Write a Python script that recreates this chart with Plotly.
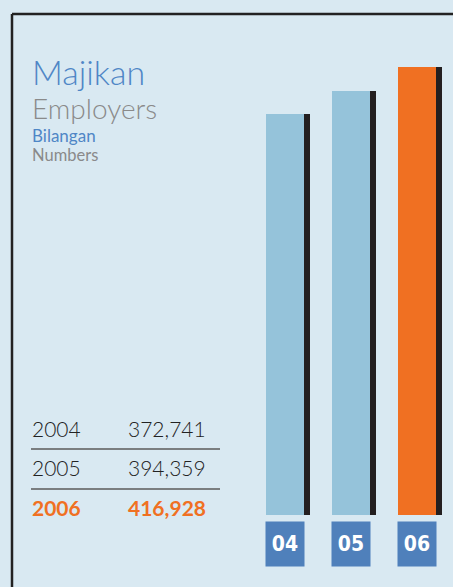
import plotly.graph_objects as go

# ---- data ----
years = ["2004", "2005", "2006"]
year_labels = ["04", "05", "06"]
employers = [372741, 394359, 416928]
value_text = ["372,741", "394,359", "416,928"]

# ---- styles ----
BG = "#d9e9f2"
LIGHT = "#95c3da"
ORANGE = "#f07022"
SHADOW = "#231f20"
BLUE = "#4f86c6"
BOX = "#4f80bb"
GRAY = "#8a8a8a"
FONT = "Lato, 'Open Sans', sans-serif"

W, H = 453, 587
unit_px = 66.0          # pixels between category centres
first_center = 285.0    # pixel x of first category
bar_w = 38 / unit_px
shadow_dx = 6 / unit_px
px_per_val = 0.001075
base_px = 515.0

xr = [-first_center / unit_px, (W - first_center) / unit_px]
yr = [-(H - base_px) / px_per_val, base_px / px_per_val]

bar_colors = [LIGHT, LIGHT, ORANGE]
xs = list(range(len(years)))

fig = go.Figure()
fig.add_trace(go.Bar(x=xs, y=employers, width=[bar_w] * 3,
                     offset=[-bar_w / 2 + shadow_dx] * 3,
                     marker=dict(color=SHADOW, line=dict(width=0)),
                     hoverinfo="skip", showlegend=False))
fig.add_trace(go.Bar(x=xs, y=employers, width=[bar_w] * 3,
                     offset=[-bar_w / 2] * 3,
                     marker=dict(color=bar_colors, line=dict(width=0)),
                     text=value_text, hoverinfo="text", textposition="none",
                     showlegend=False))

def py(p):
    return 1 - p / H

def px(p):
    return p / W

anns = []
# title block
anns += [
    dict(text="Majikan", x=px(30), y=py(72), font=dict(size=34, color=BLUE, family=FONT, weight=300)),
    dict(text="Employers", x=px(30), y=py(108), font=dict(size=28, color=GRAY, family=FONT, weight=300)),
    dict(text="Bilangan", x=px(30), y=py(136), font=dict(size=17, color=BLUE, family=FONT, weight=400)),
    dict(text="Numbers", x=px(30), y=py(155), font=dict(size=16.5, color=GRAY, family=FONT, weight=400)),
]
row_y = [428, 467, 507]
for i, (yv, vt) in enumerate(zip(years, value_text)):
    last = i == len(years) - 1
    col = ORANGE if last else "#222222"
    wt = 700 if last else 300
    anns.append(dict(text=yv, x=px(30), y=py(row_y[i]), font=dict(size=21, color=col, family=FONT, weight=wt)))
    anns.append(dict(text=vt, x=px(126), y=py(row_y[i]), font=dict(size=21, color=col, family=FONT, weight=wt)))
for a in anns:
    a.update(xref="paper", yref="paper", xanchor="left", yanchor="middle", showarrow=False)

# year boxes under bars
for i, lab in enumerate(year_labels):
    anns.append(dict(text=f"<b>{lab}</b>", x=xs[i], xref="x", y=py(544), yref="paper",
                     xanchor="center", yanchor="middle", showarrow=False,
                     bgcolor=BOX, width=34, height=40, borderpad=2,
                     font=dict(size=21, color="white",
                               family="'Liberation Sans Narrow', 'DejaVu Sans Condensed', 'Roboto', sans-serif")))

shapes = [
    # frame
    dict(type="line", xref="paper", yref="paper", x0=px(12), x1=px(12), y0=py(14), y1=0,
         line=dict(color="#222222", width=2.5)),
    dict(type="line", xref="paper", yref="paper", x0=px(12), x1=1, y0=py(14), y1=py(14),
         line=dict(color="#222222", width=2.5)),
    # table separators
    dict(type="line", xref="paper", yref="paper", x0=px(31), x1=px(220), y0=py(449), y1=py(449),
         line=dict(color="#5a5a5a", width=1.5)),
    dict(type="line", xref="paper", yref="paper", x0=px(31), x1=px(220), y0=py(489), y1=py(489),
         line=dict(color="#5a5a5a", width=1.5)),
]

fig.update_layout(
    width=W, height=H, margin=dict(l=0, r=0, t=0, b=0),
    paper_bgcolor=BG, plot_bgcolor=BG, barmode="overlay", bargap=0,
    xaxis=dict(range=xr, visible=False, fixedrange=True),
    yaxis=dict(range=yr, visible=False, fixedrange=True),
    annotations=anns, shapes=shapes,
)

fig.write_html("out.html", config={"displayModeBar": False},
               post_script="document.body.style.margin='0';document.body.style.overflow='hidden';"
                           "document.body.style.background='" + BG + "';")
